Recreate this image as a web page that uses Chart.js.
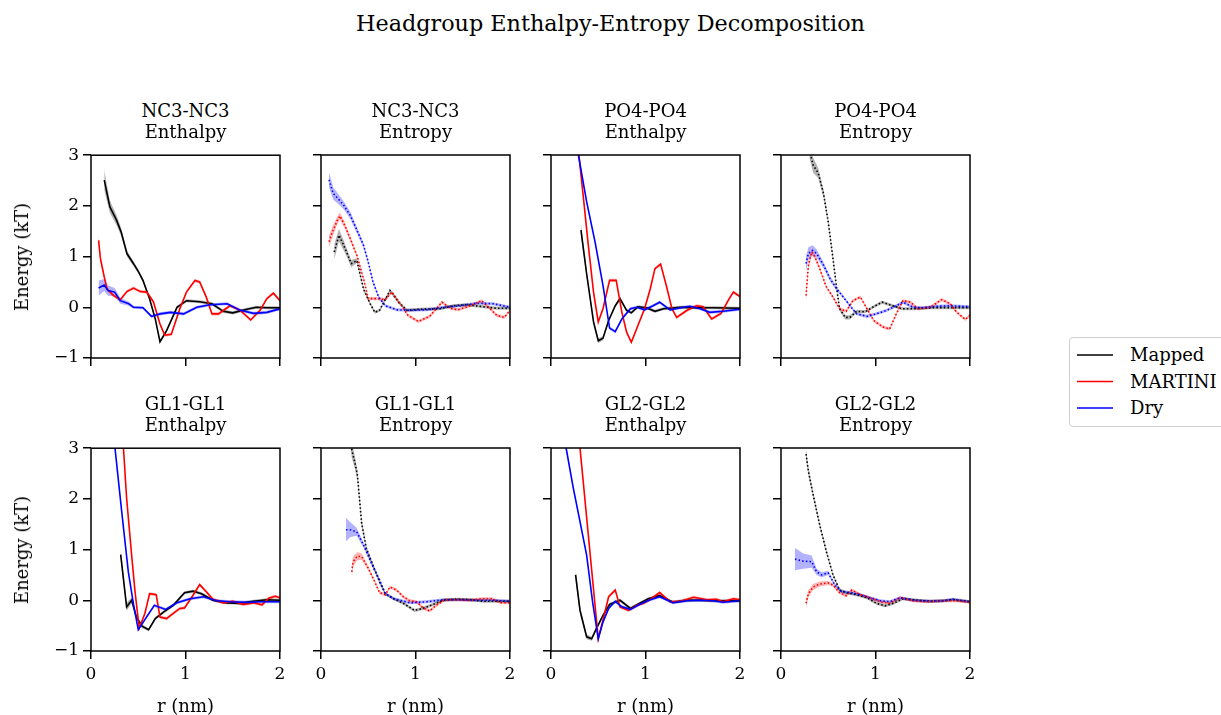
<!DOCTYPE html>
<html><head><meta charset="utf-8">
<script src="https://cdn.jsdelivr.net/npm/chart.js@4.4.0/dist/chart.umd.min.js"></script>
<style>
body{margin:0;background:#fff;}
#fig{position:relative;width:1221px;height:715px;overflow:hidden;background:#fff;font-family:'DejaVu Serif',serif;color:#000;}
.t{position:absolute;white-space:nowrap;transform:translate(-50%,-50%);line-height:1;font-size:18px;}
canvas{position:absolute;}
svg{position:absolute;}
</style></head><body><div id="fig"></div>
<script>
// ---------------- DATA ----------------
const figTitle = 'Headgroup Enthalpy-Entropy Decomposition';
const seriesNames = ['Mapped', 'MARTINI', 'Dry'];
const xTicks = [0, 1, 2];
const yTicks = [-1, 0, 1, 2, 3];
const panelPairs = ['NC3-NC3', 'NC3-NC3', 'PO4-PO4', 'PO4-PO4', 'GL1-GL1', 'GL1-GL1', 'GL2-GL2', 'GL2-GL2'];
const panelKinds = ['Enthalpy', 'Entropy', 'Enthalpy', 'Entropy', 'Enthalpy', 'Entropy', 'Enthalpy', 'Entropy'];

// NC3-NC3 Enthalpy
const r_nc3H_M = [0.14,0.2,0.27,0.32,0.38,0.45,0.5,0.55,0.62,0.68,0.73,0.8,0.91,1.01,1.15,1.28,1.4,1.5,1.65,1.75,1.86,2.0];
const e_nc3H_M = [2.51,1.98,1.72,1.48,1.06,0.86,0.71,0.53,0.17,-0.23,-0.68,-0.46,0.0,0.13,0.11,0.07,-0.08,-0.11,-0.04,0.0,-0.01,-0.01];
const s_nc3H_M = [0.2,0.12,0.1,0.08,0.06,0.05,0.04,0.04,0.03,0.03,0.03,0.03,0.03,0.03,0.03,0.03,0.03,0.03,0.03,0.03,0.03,0.03];
const r_nc3H_T = [0.08,0.1,0.14,0.17,0.24,0.31,0.38,0.45,0.52,0.59,0.66,0.73,0.78,0.85,0.94,1.01,1.1,1.15,1.22,1.28,1.35,1.47,1.58,1.69,1.79,1.86,1.93,2.0];
const e_nc3H_T = [1.32,0.96,0.6,0.36,0.23,0.15,0.31,0.38,0.31,0.3,0.11,-0.33,-0.55,-0.53,-0.03,0.3,0.53,0.5,0.2,-0.13,-0.13,0.03,-0.06,-0.25,-0.06,0.17,0.28,0.13];
const s_nc3H_T = [0.13,0.08,0.05,0.04,0.03,0.03,0.03,0.03,0.03,0.03,0.03,0.03,0.03,0.03,0.03,0.03,0.03,0.03,0.03,0.03,0.03,0.03,0.03,0.03,0.03,0.03,0.03,0.03];
const r_nc3H_D = [0.08,0.14,0.18,0.25,0.31,0.4,0.45,0.55,0.64,0.73,0.84,0.98,1.12,1.26,1.44,1.58,1.72,1.86,2.0];
const e_nc3H_D = [0.38,0.44,0.33,0.3,0.13,0.07,0.0,-0.01,-0.18,-0.13,-0.1,-0.13,0.0,0.05,0.07,-0.06,-0.12,-0.1,-0.03];
const s_nc3H_D = [0.15,0.12,0.1,0.08,0.06,0.04,0.03,0.03,0.03,0.03,0.03,0.03,0.03,0.03,0.03,0.03,0.03,0.03,0.03];

// NC3-NC3 Entropy
const r_nc3S_M = [0.14,0.19,0.24,0.27,0.32,0.38,0.45,0.52,0.57,0.62,0.73,0.82,0.91,1.05,1.26,1.4,1.54,1.72,1.86,2.0];
const e_nc3S_M = [1.09,1.42,1.22,1.09,0.86,0.92,0.36,0.07,-0.1,-0.06,0.33,0.1,-0.06,-0.04,-0.03,0.03,0.05,0.01,-0.02,-0.02];
const s_nc3S_M = [0.15,0.12,0.1,0.08,0.07,0.05,0.04,0.03,0.03,0.03,0.03,0.03,0.03,0.03,0.03,0.03,0.03,0.03,0.03,0.03];
const r_nc3S_T = [0.085,0.12,0.17,0.2,0.25,0.31,0.38,0.45,0.5,0.59,0.68,0.75,0.84,0.92,1.03,1.15,1.28,1.37,1.45,1.58,1.7,1.79,1.86,1.94,2.0];
const e_nc3S_T = [1.29,1.48,1.7,1.8,1.62,1.35,1.02,0.56,0.17,0.17,0.15,0.3,0.07,-0.16,-0.28,-0.18,0.1,-0.02,-0.05,0.03,0.13,-0.03,-0.16,-0.2,-0.06];
const s_nc3S_T = [0.12,0.1,0.08,0.07,0.06,0.05,0.04,0.04,0.03,0.03,0.03,0.03,0.03,0.03,0.03,0.03,0.03,0.03,0.03,0.03,0.03,0.03,0.03,0.03,0.03];
const r_nc3S_D = [0.085,0.13,0.18,0.24,0.31,0.38,0.45,0.5,0.55,0.61,0.68,0.8,0.94,1.12,1.3,1.47,1.65,1.82,2.0];
const e_nc3S_D = [2.51,2.24,2.14,2.01,1.81,1.52,1.22,0.89,0.5,0.2,0.03,-0.05,-0.06,-0.05,0.0,0.03,0.08,0.07,0.0];
const s_nc3S_D = [0.15,0.12,0.1,0.08,0.07,0.06,0.05,0.04,0.04,0.03,0.03,0.03,0.03,0.03,0.03,0.03,0.03,0.03,0.03];

// PO4-PO4 Enthalpy
const r_po4H_M = [0.317,0.377,0.45,0.5,0.55,0.61,0.68,0.73,0.8,0.85,0.92,1.01,1.1,1.19,1.37,1.54,1.72,2.0];
const e_po4H_M = [1.52,0.66,-0.29,-0.66,-0.61,-0.26,0.03,0.17,-0.06,-0.11,0.01,-0.01,-0.08,-0.03,0.0,-0.01,-0.01,-0.02];
const s_po4H_M = [0.12,0.08,0.06,0.05,0.04,0.03,0.03,0.03,0.03,0.03,0.03,0.03,0.03,0.03,0.03,0.03,0.03,0.03];
const r_po4H_T = [0.25,0.34,0.395,0.45,0.5,0.55,0.62,0.69,0.75,0.8,0.85,0.92,0.99,1.05,1.1,1.16,1.22,1.28,1.33,1.44,1.54,1.61,1.7,1.8,1.88,1.93,2.0];
const e_po4H_T = [3.8,2.21,1.22,0.3,-0.29,-0.03,0.53,0.53,-0.1,-0.49,-0.69,-0.36,-0.03,0.36,0.76,0.85,0.43,-0.03,-0.2,-0.06,0.03,0.01,-0.23,-0.12,0.15,0.3,0.21];
const s_po4H_T = [0.06,0.04,0.03,0.03,0.03,0.03,0.03,0.03,0.03,0.03,0.03,0.03,0.03,0.03,0.03,0.03,0.03,0.03,0.03,0.03,0.03,0.03,0.03,0.03,0.03,0.03,0.03];
const r_po4H_D = [0.25,0.29,0.377,0.466,0.55,0.62,0.68,0.75,0.84,0.91,0.99,1.08,1.15,1.26,1.37,1.47,1.58,1.68,1.82,2.0];
const e_po4H_D = [3.4,3.0,2.08,1.29,0.43,-0.41,-0.48,-0.23,-0.03,0.0,-0.05,0.03,0.1,-0.05,-0.01,0.02,-0.03,-0.1,-0.08,-0.04];
const s_po4H_D = [0.06,0.05,0.04,0.03,0.03,0.03,0.03,0.03,0.03,0.03,0.03,0.03,0.03,0.03,0.03,0.03,0.03,0.03,0.03,0.03];

// PO4-PO4 Entropy
const r_po4S_M = [0.3,0.34,0.395,0.45,0.5,0.55,0.59,0.62,0.68,0.73,0.8,0.89,0.98,1.07,1.15,1.28,1.4,1.58,1.72,2.0];
const e_po4S_M = [3.1,2.8,2.64,2.24,1.68,0.96,0.36,-0.03,-0.2,-0.2,-0.08,-0.09,0.01,0.1,0.05,-0.03,-0.03,-0.01,-0.01,-0.01];
const s_po4S_M = [0.15,0.15,0.1,0.08,0.06,0.05,0.04,0.04,0.04,0.04,0.03,0.03,0.03,0.03,0.03,0.03,0.03,0.03,0.03,0.03];
const r_po4S_T = [0.265,0.29,0.325,0.36,0.41,0.48,0.55,0.62,0.69,0.76,0.84,0.91,0.98,1.08,1.15,1.22,1.29,1.37,1.45,1.58,1.7,1.79,1.86,1.95,2.0];
const e_po4S_T = [0.23,0.83,1.09,0.99,0.76,0.4,0.2,-0.03,-0.08,0.13,0.2,-0.03,-0.26,-0.39,-0.43,-0.13,0.13,0.1,-0.03,0.0,0.15,0.07,-0.1,-0.24,-0.16];
const s_po4S_T = [0.1,0.08,0.06,0.05,0.04,0.03,0.03,0.03,0.03,0.03,0.03,0.03,0.03,0.03,0.03,0.03,0.03,0.03,0.03,0.03,0.03,0.03,0.03,0.03,0.03];
const r_po4S_D = [0.265,0.29,0.335,0.377,0.45,0.52,0.59,0.66,0.73,0.8,0.91,1.01,1.12,1.22,1.29,1.4,1.5,1.65,1.79,2.0];
const e_po4S_D = [0.86,1.06,1.12,1.06,0.83,0.56,0.36,0.2,0.03,-0.13,-0.18,-0.13,-0.06,0.03,0.1,0.0,-0.01,0.02,0.03,0.01];
const s_po4S_D = [0.15,0.12,0.1,0.08,0.06,0.05,0.04,0.03,0.03,0.03,0.03,0.03,0.03,0.03,0.03,0.03,0.03,0.03,0.03,0.03];

// GL1-GL1 Enthalpy
const r_gl1H_M = [0.314,0.377,0.43,0.48,0.54,0.61,0.68,0.77,0.87,0.99,1.08,1.17,1.29,1.44,1.58,1.72,1.86,2.0];
const e_gl1H_M = [0.9,-0.13,0.0,-0.33,-0.51,-0.58,-0.36,-0.23,-0.1,0.15,0.18,0.13,0.0,-0.05,-0.06,-0.02,0.01,0.0];
const s_gl1H_M = [0.12,0.08,0.06,0.05,0.04,0.03,0.03,0.03,0.03,0.03,0.03,0.03,0.03,0.03,0.03,0.03,0.03,0.03];
const r_gl1H_T = [0.32,0.377,0.43,0.466,0.51,0.57,0.62,0.69,0.73,0.8,0.87,0.94,0.99,1.08,1.15,1.22,1.29,1.4,1.5,1.61,1.72,1.81,1.88,1.95,2.0];
const e_gl1H_T = [3.7,2.01,0.89,0.17,-0.55,-0.26,0.13,0.11,-0.33,-0.36,-0.26,-0.16,-0.15,0.1,0.31,0.17,0.02,-0.05,-0.02,-0.08,-0.05,-0.09,0.04,0.08,0.05];
const s_gl1H_T = [0.05,0.04,0.03,0.03,0.03,0.03,0.03,0.03,0.03,0.03,0.03,0.03,0.03,0.03,0.03,0.03,0.03,0.03,0.03,0.03,0.03,0.03,0.03,0.03,0.03];
const r_gl1H_D = [0.22,0.254,0.325,0.395,0.45,0.5,0.57,0.67,0.79,0.91,1.05,1.19,1.33,1.47,1.65,1.79,2.0];
const e_gl1H_D = [3.5,3.0,1.75,0.56,-0.08,-0.58,-0.38,-0.1,-0.18,-0.05,0.03,0.07,-0.01,-0.03,-0.04,-0.03,-0.03];
const s_gl1H_D = [0.05,0.04,0.03,0.03,0.03,0.03,0.03,0.03,0.03,0.03,0.03,0.03,0.03,0.03,0.03,0.03,0.03];

// GL1-GL1 Entropy
const r_gl1S_M = [0.31,0.325,0.36,0.385,0.43,0.48,0.55,0.62,0.68,0.77,0.87,0.99,1.08,1.19,1.29,1.44,1.58,1.72,1.86,2.0];
const e_gl1S_M = [3.2,2.97,2.7,2.47,1.52,1.02,0.69,0.36,0.13,0.03,-0.06,-0.2,-0.16,-0.08,0.0,0.02,0.01,-0.02,-0.02,-0.02];
const s_gl1S_M = [0.15,0.15,0.12,0.1,0.07,0.05,0.04,0.04,0.03,0.03,0.03,0.03,0.03,0.03,0.03,0.03,0.03,0.03,0.03,0.03];
const r_gl1S_T = [0.325,0.34,0.385,0.43,0.5,0.57,0.62,0.68,0.73,0.8,0.87,0.94,1.01,1.08,1.15,1.22,1.31,1.44,1.58,1.7,1.81,1.9,2.0];
const e_gl1S_T = [0.56,0.76,0.87,0.86,0.63,0.36,0.15,0.11,0.26,0.2,0.07,-0.01,-0.03,-0.15,-0.21,-0.1,0.01,0.01,0.0,0.03,0.03,-0.05,-0.05];
const s_gl1S_T = [0.12,0.1,0.08,0.06,0.04,0.03,0.03,0.03,0.03,0.03,0.03,0.03,0.03,0.03,0.03,0.03,0.03,0.03,0.03,0.03,0.03,0.03,0.03];
const r_gl1S_D = [0.265,0.307,0.377,0.45,0.55,0.62,0.68,0.77,0.94,1.12,1.29,1.47,1.65,1.82,2.0];
const e_gl1S_D = [1.39,1.39,1.35,1.09,0.66,0.4,0.13,0.03,-0.05,-0.03,0.01,0.01,0.0,0.0,-0.02];
const s_gl1S_D = [0.23,0.15,0.08,0.05,0.04,0.03,0.03,0.03,0.03,0.03,0.03,0.03,0.03,0.03,0.03];

// GL2-GL2 Enthalpy
const r_gl2H_M = [0.26,0.307,0.377,0.43,0.48,0.55,0.62,0.73,0.84,0.94,1.03,1.15,1.29,1.44,1.58,1.72,2.0];
const e_gl2H_M = [0.5,-0.2,-0.72,-0.76,-0.56,-0.3,-0.08,0.0,-0.16,-0.06,0.03,0.09,-0.04,0.0,0.0,-0.01,-0.01];
const s_gl2H_M = [0.12,0.08,0.05,0.04,0.04,0.03,0.03,0.03,0.03,0.03,0.03,0.03,0.03,0.03,0.03,0.03,0.03];
const r_gl2H_T = [0.29,0.5,0.55,0.61,0.68,0.73,0.82,0.91,0.98,1.06,1.15,1.26,1.37,1.51,1.65,1.75,1.82,1.93,2.0];
const e_gl2H_T = [3.33,-0.76,-0.39,0.07,0.2,-0.13,-0.2,-0.1,-0.06,0.03,0.15,-0.03,-0.02,0.06,0.01,0.02,-0.03,0.03,0.01];
const s_gl2H_T = [0.05,0.04,0.03,0.03,0.03,0.03,0.03,0.03,0.03,0.03,0.03,0.03,0.03,0.03,0.03,0.03,0.03,0.03,0.03];
const r_gl2H_D = [0.14,0.16,0.236,0.307,0.377,0.44,0.5,0.55,0.61,0.68,0.75,0.84,0.94,1.05,1.15,1.29,1.44,1.58,1.72,1.82,2.0];
const e_gl2H_D = [3.15,3.0,2.21,1.55,0.89,-0.03,-0.76,-0.43,-0.16,-0.02,-0.13,-0.18,-0.08,0.01,0.07,-0.05,-0.01,0.0,-0.01,-0.04,-0.01];
const s_gl2H_D = [0.06,0.05,0.04,0.03,0.03,0.03,0.03,0.03,0.03,0.03,0.03,0.03,0.03,0.03,0.03,0.03,0.03,0.03,0.03,0.03,0.03];

// GL2-GL2 Entropy
const r_gl2S_M = [0.265,0.29,0.34,0.41,0.48,0.55,0.62,0.69,0.8,0.91,1.01,1.1,1.19,1.29,1.44,1.58,1.72,1.82,2.0];
const e_gl2S_M = [2.88,2.54,2.08,1.48,0.96,0.5,0.2,0.15,0.11,0.05,-0.06,-0.11,-0.06,0.03,0.0,-0.02,-0.01,0.01,-0.03];
const s_gl2S_M = [0.1,0.08,0.06,0.05,0.04,0.03,0.03,0.03,0.03,0.03,0.03,0.03,0.03,0.03,0.03,0.03,0.03,0.03,0.03];
const r_gl2S_T = [0.265,0.29,0.34,0.41,0.5,0.55,0.62,0.69,0.75,0.84,0.94,1.05,1.15,1.26,1.4,1.54,1.72,1.86,2.0];
const e_gl2S_T = [-0.06,0.13,0.26,0.32,0.34,0.3,0.15,0.09,0.2,0.11,0.05,-0.03,-0.06,0.05,-0.01,-0.03,-0.01,-0.01,-0.04];
const s_gl2S_T = [0.08,0.07,0.06,0.05,0.04,0.03,0.03,0.03,0.03,0.03,0.03,0.03,0.03,0.03,0.03,0.03,0.03,0.03,0.03];
const r_gl2S_D = [0.148,0.236,0.325,0.377,0.43,0.5,0.57,0.64,0.73,0.84,0.94,1.05,1.15,1.26,1.4,1.58,1.72,1.82,2.0];
const e_gl2S_D = [0.81,0.77,0.76,0.56,0.5,0.54,0.3,0.17,0.15,0.11,0.05,-0.01,-0.03,0.05,0.0,-0.02,-0.01,0.02,-0.03];
const s_gl2S_D = [0.22,0.15,0.12,0.06,0.05,0.04,0.03,0.03,0.03,0.03,0.03,0.03,0.03,0.03,0.03,0.03,0.03,0.03,0.03];

// ---------------- TABLE (built from arrays) ----------------
const panelSeries = [
  [[r_nc3H_M,e_nc3H_M,s_nc3H_M],[r_nc3H_T,e_nc3H_T,s_nc3H_T],[r_nc3H_D,e_nc3H_D,s_nc3H_D]],
  [[r_nc3S_M,e_nc3S_M,s_nc3S_M],[r_nc3S_T,e_nc3S_T,s_nc3S_T],[r_nc3S_D,e_nc3S_D,s_nc3S_D]],
  [[r_po4H_M,e_po4H_M,s_po4H_M],[r_po4H_T,e_po4H_T,s_po4H_T],[r_po4H_D,e_po4H_D,s_po4H_D]],
  [[r_po4S_M,e_po4S_M,s_po4S_M],[r_po4S_T,e_po4S_T,s_po4S_T],[r_po4S_D,e_po4S_D,s_po4S_D]],
  [[r_gl1H_M,e_gl1H_M,s_gl1H_M],[r_gl1H_T,e_gl1H_T,s_gl1H_T],[r_gl1H_D,e_gl1H_D,s_gl1H_D]],
  [[r_gl1S_M,e_gl1S_M,s_gl1S_M],[r_gl1S_T,e_gl1S_T,s_gl1S_T],[r_gl1S_D,e_gl1S_D,s_gl1S_D]],
  [[r_gl2H_M,e_gl2H_M,s_gl2H_M],[r_gl2H_T,e_gl2H_T,s_gl2H_T],[r_gl2H_D,e_gl2H_D,s_gl2H_D]],
  [[r_gl2S_M,e_gl2S_M,s_gl2S_M],[r_gl2S_T,e_gl2S_T,s_gl2S_T],[r_gl2S_D,e_gl2S_D,s_gl2S_D]]
];

// ---------------- STYLE / LAYOUT ----------------
const lineColors = ['#000000', '#ff0000', '#0000ff'];
const bandColors = ['rgba(0,0,0,0.3)', 'rgba(255,0,0,0.3)', 'rgba(0,0,255,0.3)'];
const FONT = "'DejaVu Serif', serif";
const PL = [91, 321, 551, 781], PT = [155, 448], PW = 189, PH = 203;
const fig = document.getElementById('fig');

function addText(txt, x, y, size, extra) {
  const d = document.createElement('div');
  d.className = 't';
  d.textContent = txt;
  d.style.left = x + 'px'; d.style.top = y + 'px';
  d.style.fontSize = size + 'px';
  if (extra) d.style.transform = extra;
  fig.appendChild(d);
  return d;
}

const boxPlugin = {
  id: 'box',
  afterDraw(chart) {
    const {ctx, chartArea: a} = chart;
    ctx.save();
    ctx.strokeStyle = '#000'; ctx.lineWidth = 1.5;
    ctx.strokeRect(a.left, a.top, a.right - a.left, a.bottom - a.top);
    ctx.restore();
  }
};

function fmt(v) { return v < 0 ? '\u2212' + Math.abs(v) : String(v); }

function buildChart(idx, W, H, L, B, T, R) {
  const col = idx % 4, row = Math.floor(idx / 4);
  const entropy = panelKinds[idx] === 'Entropy';
  const ds = [];
  const series = panelSeries[idx];
  series.forEach((s, k) => {
    const [r, e, sd] = s;
    ds.push({label: seriesNames[k], data: r.map((x, i) => ({x: x, y: e[i]})),
      borderColor: lineColors[k], borderWidth: 1.6, pointRadius: 0, tension: 0, fill: false,
      borderDash: entropy ? [1.5, 2.2] : [], borderCapStyle: 'butt', order: 2 - k});
  });
  series.forEach((s, k) => {
    const [r, e, sd] = s;
    ds.push({label: seriesNames[k] + ' lo', data: r.map((x, i) => ({x: x, y: e[i] - sd[i]})),
      borderWidth: 0, borderColor: 'rgba(0,0,0,0)', pointRadius: 0, tension: 0, fill: false, order: 10 + k});
    ds.push({label: seriesNames[k] + ' hi', data: r.map((x, i) => ({x: x, y: e[i] + sd[i]})),
      borderWidth: 0, borderColor: 'rgba(0,0,0,0)', pointRadius: 0, tension: 0, fill: '-1',
      backgroundColor: bandColors[k], order: 10 + k});
  });
  const canvas = document.createElement('canvas');
  canvas.width = W; canvas.height = H;
  canvas.style.width = W + 'px'; canvas.style.height = H + 'px';
  fig.appendChild(canvas);
  const tickFont = {family: FONT, size: 17};
  const chart = new Chart(canvas, {
    type: 'line',
    data: {datasets: ds},
    options: {
      responsive: false, animation: false, devicePixelRatio: 1,
      layout: {padding: {top: T, right: R, left: 0, bottom: 0}},
      plugins: {legend: {display: false}, tooltip: {enabled: false}, title: {display: false}},
      scales: {
        x: {type: 'linear', min: 0, max: 2,
          afterBuildTicks: (sc) => { sc.ticks = xTicks.map(v => ({value: v})); },
          afterFit: (sc) => { sc.height = B; },
          grid: {drawOnChartArea: false, drawTicks: true, tickLength: 8, color: '#000', lineWidth: 1.5},
          border: {display: false},
          ticks: {display: row === 1, color: '#000', font: tickFont, padding: 5, maxRotation: 0, callback: fmt}},
        y: {type: 'linear', min: -1, max: 3,
          afterBuildTicks: (sc) => { sc.ticks = yTicks.map(v => ({value: v})); },
          afterFit: (sc) => { sc.width = L; },
          grid: {drawOnChartArea: false, drawTicks: true, tickLength: 8, color: '#000', lineWidth: 1.5},
          border: {display: false},
          ticks: {display: col === 0, color: '#000', font: tickFont, padding: 4, callback: fmt}}
      }
    },
    plugins: [boxPlugin]
  });
  return {chart, canvas};
}

for (let idx = 0; idx < 8; idx++) {
  const col = idx % 4, row = Math.floor(idx / 4);
  const L = 70, B = 45, T = 12, R = 12;
  let W = PW + L + R, H = PH + T + B;
  let res = buildChart(idx, W, H, L, B, T, R);
  for (let it = 0; it < 3; it++) {
    const a = res.chart.chartArea;
    const dw = PW - (a.right - a.left), dh = PH - (a.bottom - a.top);
    if (Math.abs(dw) < 0.01 && Math.abs(dh) < 0.01) break;
    res.chart.destroy(); res.canvas.remove();
    W += dw; H += dh;
    res = buildChart(idx, W, H, L, B, T, R);
  }
  const a = res.chart.chartArea;
  res.canvas.style.left = (PL[col] - a.left) + 'px';
  res.canvas.style.top = (PT[row] - a.top) + 'px';

  const cx = PL[col] + PW / 2;
  addText(panelPairs[idx], cx, PT[row] - 44, 18);
  addText(panelKinds[idx], cx, PT[row] - 23, 18);
  if (col === 0) addText('Energy (kT)', 22, PT[row] + PH / 2, 18, 'translate(-50%,-50%) rotate(-90deg)');
  if (row === 1) addText('r (nm)', cx, 706, 18);
}

addText(figTitle, 610.5, 23, 22.3);

// legend
const lg = document.createElement('div');
lg.style.cssText = 'position:absolute;left:1069px;top:337px;width:170px;height:90px;border:1.5px solid #d0d0d0;border-radius:4px;background:#fff;box-sizing:border-box;';
fig.appendChild(lg);
const NS = 'http://www.w3.org/2000/svg';
const svg = document.createElementNS(NS, 'svg');
svg.setAttribute('width', '60'); svg.setAttribute('height', '90');
svg.style.left = '1070px'; svg.style.top = '337px';
fig.appendChild(svg);
seriesNames.forEach((n, k) => {
  const y = 355 + k * 26.5;
  const ln = document.createElementNS(NS, 'line');
  ln.setAttribute('x1', 7); ln.setAttribute('x2', 43);
  ln.setAttribute('y1', y - 337); ln.setAttribute('y2', y - 337);
  ln.setAttribute('stroke', lineColors[k]); ln.setAttribute('stroke-width', '1.5');
  svg.appendChild(ln);
  const t = addText(n, 1130, y, 18);
  t.style.transform = 'translate(0,-50%)';
});
</script>
</body></html>
